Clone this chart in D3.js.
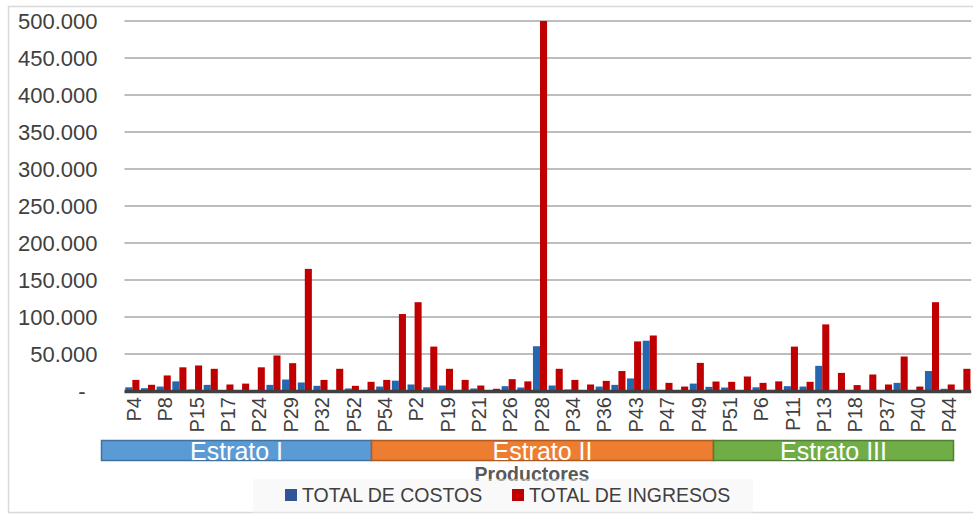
<!DOCTYPE html>
<html>
<head>
<meta charset="utf-8">
<script src="https://cdn.jsdelivr.net/npm/d3@7"></script>
<style>
  html, body { margin: 0; padding: 0; background: #ffffff; }
  svg { display: block; font-family: "Liberation Sans", Arial, sans-serif; }
</style>
</head>
<body>
<svg id="chart" width="973" height="518"></svg>
<script>
// Labels shown under every second producer
const tickLabels = ["P4","P8","P15","P17","P24","P29","P32","P52","P54","P2","P19","P21","P26",
  "P28","P34","P36","P43","P47","P49","P51","P6","P11","P13","P18","P37","P40","P44"];

// TOTAL DE COSTOS per producer
const totalCostos = [5000,3800,6000,13000,2000,8300,0,0,0,8300,15500,11500,7000,0,3400,0,
  6000,14000,8800,5000,7400,0,3400,0,6500,4700,60500,7400,2000,0,6000,8300,17000,68000,0,0,
  10000,5600,4700,0,5000,1500,6500,6000,34000,0,0,0,0,11000,0,27000,3000,0];

// TOTAL DE INGRESOS per producer
const totalIngresos = [15000,8400,21000,32000,34500,30000,8800,10000,32000,48000,37600,165000,
  15000,30000,7000,12400,15000,104000,120000,60000,30000,15000,7400,3000,16000,13000,500000,
  30000,15000,8800,13700,27000,67000,75000,11000,6000,38000,12800,12400,19600,11000,13000,
  60000,12400,90000,24500,8000,22300,8800,46600,6000,120000,8800,30000];

const seriesNames = ["TOTAL DE COSTOS", "TOTAL DE INGRESOS"];
const seriesColors = ["#2566B0", "#C00000"];
const yTicks = [0,50000,100000,150000,200000,250000,300000,350000,400000,450000,500000];
const estratoNames = ["Estrato I", "Estrato II", "Estrato III"];

const svg = d3.select("#chart");

// outer chart frame
svg.append("rect").attr("x", 8.5).attr("y", 6.5).attr("width", 1000).attr("height", 506)
  .attr("fill", "none").attr("stroke", "#D9D9D9").attr("stroke-width", 1.5);

const plot = { left: 124.5, right: 971.2, top: 21, bottom: 391 };

const x = d3.scaleBand()
  .domain(d3.range(totalCostos.length))
  .range([plot.left, plot.right])
  .paddingInner(0.1).paddingOuter(0.05);
const xs = d3.scaleBand().domain([0, 1]).range([0, x.bandwidth()]);
const y = d3.scaleLinear().domain([0, 500000]).range([plot.bottom, plot.top]);

const fmt = v => v === 0 ? "-" : d3.format(",")(v).replace(/,/g, ".");

// horizontal gridlines
svg.append("g").selectAll("line")
  .data(yTicks.filter(t => t > 0))
  .join("line")
  .attr("x1", plot.left).attr("x2", plot.right)
  .attr("y1", d => y(d)).attr("y2", d => y(d))
  .attr("stroke", "#BDBDBD").attr("stroke-width", 1.8);

// y axis labels
const yAxis = svg.append("g")
  .attr("transform", `translate(${plot.left - 27},0)`)
  .call(d3.axisLeft(y).tickValues(yTicks).tickFormat(fmt).tickSize(0).tickPadding(0));
yAxis.select(".domain").remove();
yAxis.selectAll("text")
  .attr("fill", "#404040").style("font-size", "22px")
  .attr("dy", "0.36em")
  .attr("dx", d => d === 0 ? -12 : 0);

// bars
const rows = totalCostos.map((c, i) => [c, totalIngresos[i]]);
const groups = svg.append("g").selectAll("g")
  .data(rows)
  .join("g")
  .attr("transform", (d, i) => `translate(${x(i)},0)`);
groups.selectAll("rect")
  .data(d => d.map((v, k) => ({ v, k })))
  .join("rect")
  .attr("x", d => xs(d.k))
  .attr("width", xs.bandwidth())
  .attr("y", d => y(d.v))
  .attr("height", d => y(0) - y(d.v))
  .attr("fill", d => seriesColors[d.k]);

// category axis line
svg.append("line")
  .attr("x1", plot.left).attr("x2", plot.right)
  .attr("y1", plot.bottom + 0.5).attr("y2", plot.bottom + 0.5)
  .attr("stroke", "#404040").attr("stroke-width", 3.5);

// rotated producer labels on every second category
const xAxis = svg.append("g")
  .attr("transform", `translate(0,${plot.bottom + 6})`)
  .call(d3.axisBottom(x)
    .tickValues(d3.range(0, totalCostos.length, 2))
    .tickFormat(i => tickLabels[i / 2])
    .tickSize(0).tickPadding(0));
xAxis.select(".domain").remove();
xAxis.selectAll("text")
  .attr("fill", "#404040").style("font-size", "20px")
  .attr("text-anchor", "end")
  .attr("x", 0).attr("y", 0).attr("dy", "0.36em").attr("dx", 0)
  .attr("transform", "rotate(-90) translate(0,1.5)");

// strata bands under the producer labels
const estratoEdges = [101.5, 371.5, 713.5, 953.5];
const estratoFill = ["#5B9BD5", "#ED7D31", "#70AD47"];
const estratoStroke = ["#41719C", "#AE5A21", "#507E32"];
const band = svg.append("g").selectAll("g")
  .data(estratoNames)
  .join("g");
band.append("rect")
  .attr("x", (d, i) => estratoEdges[i])
  .attr("y", 440.5)
  .attr("width", (d, i) => estratoEdges[i + 1] - estratoEdges[i])
  .attr("height", 20)
  .attr("fill", (d, i) => estratoFill[i])
  .attr("stroke", (d, i) => estratoStroke[i]).attr("stroke-width", 1.5);
band.append("text")
  .attr("x", (d, i) => (estratoEdges[i] + estratoEdges[i + 1]) / 2)
  .attr("y", 451)
  .attr("dy", "0.36em")
  .attr("text-anchor", "middle")
  .attr("fill", "#ffffff").style("font-size", "25px")
  .text(d => d);

// axis title
svg.append("text")
  .attr("x", 532).attr("y", 481)
  .attr("text-anchor", "middle")
  .attr("fill", "#595959").style("font-size", "19.5px").style("font-weight", "bold")
  .text("Productores");

// legend
const legend = svg.append("g");
legend.append("rect").attr("x", 253).attr("y", 479).attr("width", 500).attr("height", 34)
  .attr("fill", "#F2F2F2").attr("opacity", 0.45);
const legendX = [285, 512];
const item = legend.selectAll("g.item")
  .data(seriesNames)
  .join("g").attr("class", "item")
  .attr("transform", (d, i) => `translate(${legendX[i]},489)`);
item.append("rect").attr("width", 12).attr("height", 12)
  .attr("fill", (d, i) => i === 0 ? "#2F5597" : "#C00000");
item.append("text")
  .attr("x", 17).attr("y", 6).attr("dy", "0.36em")
  .attr("fill", "#404040").style("font-size", "19.5px")
  .text(d => d);
</script>
</body>
</html>
